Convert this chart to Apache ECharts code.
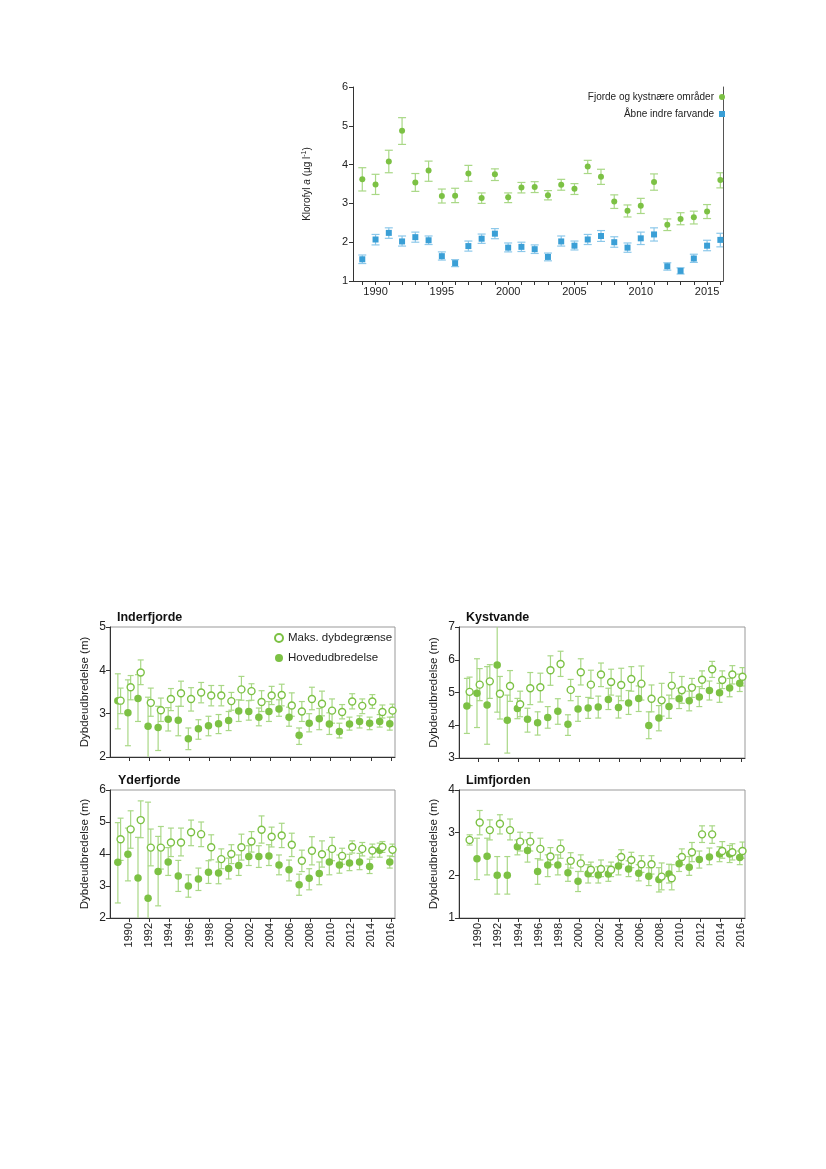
<!DOCTYPE html>
<html><head><meta charset="utf-8">
<script src="https://cdn.jsdelivr.net/npm/echarts@6/dist/echarts.min.js"></script>
<style>html,body{margin:0;padding:0;background:#fff}#c{width:826px;height:1169px}</style>
</head><body><div id="c"></div>
<script>
// ---------- DATA ----------
const years = [1989,1990,1991,1992,1993,1994,1995,1996,1997,1998,1999,2000,2001,2002,2003,2004,2005,2006,2007,2008,2009,2010,2011,2012,2013,2014,2015,2016];
const topTickLabels = [1990,1995,2000,2005,2010,2015];
const bottomTickLabels = [1990,1992,1994,1996,1998,2000,2002,2004,2006,2008,2010,2012,2014,2016];

// Top chart: Klorofyl a
const fjordMean = [3.62,3.49,4.08,4.87,3.54,3.85,3.19,3.20,3.77,3.14,3.75,3.16,3.41,3.42,3.21,3.48,3.38,3.95,3.69,3.05,2.81,2.94,3.55,2.45,2.60,2.64,2.79,3.60];
const fjordLo   = [3.32,3.23,3.79,4.52,3.31,3.57,3.01,3.02,3.57,3.00,3.59,3.02,3.27,3.28,3.09,3.34,3.23,3.77,3.49,2.87,2.65,2.74,3.34,2.30,2.45,2.47,2.61,3.40];
const fjordHi   = [3.92,3.75,4.37,5.21,3.77,4.09,3.37,3.39,3.98,3.27,3.89,3.27,3.54,3.56,3.33,3.62,3.51,4.11,3.88,3.22,2.96,3.13,3.76,2.60,2.76,2.80,2.97,3.79];
const openMean  = [1.56,2.07,2.24,2.02,2.13,2.05,1.64,1.46,1.90,2.09,2.22,1.86,1.88,1.82,1.62,2.02,1.91,2.07,2.16,2.00,1.86,2.10,2.20,1.38,1.26,1.58,1.91,2.06];
const openLo    = [1.45,1.93,2.10,1.90,2.00,1.94,1.54,1.37,1.77,1.97,2.09,1.75,1.76,1.71,1.52,1.90,1.80,1.94,2.02,1.87,1.74,1.94,2.03,1.28,1.18,1.48,1.78,1.88];
const openHi    = [1.67,2.20,2.37,2.16,2.26,2.16,1.75,1.55,2.03,2.21,2.35,1.98,2.00,1.93,1.72,2.16,2.03,2.20,2.30,2.14,1.98,2.26,2.37,1.47,1.34,1.69,2.05,2.23];

// Inderfjorde
const inderHoved   = [3.30,3.02,3.35,2.71,2.68,2.87,2.85,2.42,2.65,2.72,2.77,2.84,3.06,3.05,2.92,3.05,3.11,2.92,2.50,2.78,2.88,2.76,2.59,2.76,2.82,2.78,2.82,2.77];
const inderHovedLo = [2.65,2.26,2.82,1.90,2.15,2.60,2.49,2.17,2.41,2.49,2.54,2.61,2.82,2.85,2.72,2.82,2.94,2.71,2.29,2.58,2.63,2.52,2.44,2.62,2.67,2.63,2.69,2.62];
const inderHovedHi = [3.92,3.78,3.90,3.38,3.17,3.14,3.17,2.67,2.86,2.94,2.98,3.05,3.32,3.30,3.13,3.28,3.32,3.15,2.67,3.00,3.12,3.02,2.78,2.92,2.95,2.92,2.98,2.92];
const inderMaks    = [3.30,3.61,3.95,3.25,3.08,3.34,3.47,3.34,3.49,3.42,3.42,3.29,3.56,3.52,3.27,3.42,3.43,3.19,3.05,3.34,3.23,3.07,3.04,3.28,3.18,3.28,3.04,3.07];
const inderMaksLo  = [3.00,3.32,3.67,2.94,2.82,3.07,3.17,3.06,3.25,3.18,3.18,3.08,3.31,3.31,3.05,3.21,3.18,2.94,2.82,3.09,2.95,2.78,2.88,3.11,3.00,3.12,2.90,2.92];
const inderMaksHi  = [3.59,3.88,4.24,3.59,3.36,3.58,3.75,3.60,3.72,3.65,3.65,3.49,3.86,3.69,3.53,3.63,3.68,3.48,3.28,3.61,3.52,3.34,3.21,3.46,3.34,3.44,3.20,3.22];

// Kystvande
const kystHoved   = [4.59,4.98,4.62,5.84,4.15,4.51,4.18,4.08,4.24,4.43,4.03,4.50,4.53,4.56,4.79,4.54,4.68,4.82,3.99,4.22,4.57,4.81,4.75,4.86,5.06,4.99,5.14,5.28];
const kystHovedLo = [3.75,3.93,3.42,4.40,3.15,4.20,3.79,3.70,3.91,4.03,3.69,4.12,4.21,4.22,4.48,4.22,4.33,4.42,3.59,3.83,4.21,4.51,4.44,4.57,4.77,4.70,4.87,5.03];
const kystHovedHi = [5.43,6.03,5.79,7.30,4.92,4.82,4.52,4.41,4.57,4.81,4.32,4.88,4.85,4.89,5.13,4.89,5.06,5.20,4.41,4.60,4.92,5.13,5.04,5.18,5.35,5.28,5.43,5.56];
const kystMaks    = [5.02,5.24,5.34,4.96,5.20,4.64,5.13,5.16,5.68,5.87,5.08,5.62,5.24,5.55,5.32,5.23,5.41,5.27,4.81,4.76,5.21,5.07,5.15,5.39,5.71,5.38,5.55,5.48];
const kystMaksLo  = [4.60,4.75,4.82,4.19,4.73,4.26,4.63,4.71,5.22,5.49,4.75,5.23,4.82,5.18,4.92,4.75,5.04,4.77,4.41,4.28,4.81,4.67,4.85,5.12,5.46,5.12,5.26,5.20];
const kystMaksHi  = [5.47,5.73,5.85,5.49,5.67,5.04,5.61,5.59,6.12,6.26,5.40,6.03,5.68,5.90,5.71,5.74,5.79,5.81,5.23,5.28,5.61,5.49,5.43,5.66,5.95,5.66,5.82,5.76];

// Yderfjorde
const yderHoved   = [3.74,3.99,3.25,2.62,3.45,3.75,3.31,3.00,3.22,3.43,3.41,3.55,3.64,3.92,3.92,3.94,3.66,3.51,3.04,3.24,3.39,3.75,3.66,3.72,3.75,3.61,4.12,3.75];
const yderHovedLo = [2.47,3.16,1.90,1.60,2.38,3.33,2.83,2.65,2.86,3.08,3.07,3.22,3.33,3.64,3.58,3.64,3.35,3.16,2.71,2.88,3.04,3.35,3.40,3.48,3.51,3.39,3.90,3.56];
const yderHovedHi = [4.98,4.81,4.52,5.62,4.55,4.20,3.80,3.35,3.56,3.79,3.75,3.87,3.97,4.26,4.26,4.29,3.97,3.81,3.37,3.54,3.75,4.13,3.97,3.99,4.02,3.84,4.34,3.94];
const yderMaks    = [4.46,4.77,5.06,4.20,4.20,4.36,4.36,4.68,4.62,4.21,3.84,4.00,4.21,4.39,4.76,4.54,4.58,4.29,3.79,4.10,3.99,4.16,3.94,4.22,4.16,4.11,4.22,4.13];
const yderMaksLo  = [3.80,4.18,4.51,3.63,3.53,3.92,3.94,4.26,4.23,3.82,3.54,3.70,3.81,4.06,4.34,4.22,4.20,3.92,3.45,3.66,3.59,3.79,3.68,4.03,3.94,3.90,4.05,3.92];
const yderMaksHi  = [5.12,5.35,5.66,4.78,4.86,4.81,4.81,5.06,5.00,4.60,4.16,4.29,4.62,4.70,5.19,4.84,4.96,4.65,4.12,4.54,4.41,4.52,4.18,4.41,4.36,4.31,4.39,4.31];

// Limfjorden
const limfHoved   = [null,2.39,2.45,2.00,2.00,2.67,2.58,2.09,2.24,2.24,2.06,1.86,2.04,2.01,2.03,2.22,2.15,2.05,1.98,1.90,2.03,2.27,2.19,2.37,2.43,2.50,2.50,2.42];
const limfHovedLo = [null,1.90,2.01,1.56,1.56,2.48,2.31,1.79,1.97,2.01,1.86,1.62,1.82,1.82,1.86,2.01,1.97,1.87,1.76,1.61,1.82,2.09,2.00,2.17,2.25,2.32,2.30,2.25];
const limfHovedHi = [null,2.87,2.87,2.44,2.44,2.83,2.83,2.39,2.48,2.48,2.26,2.09,2.25,2.20,2.22,2.44,2.34,2.25,2.18,2.18,2.26,2.44,2.44,2.57,2.64,2.67,2.70,2.57];
const limfMaks    = [2.83,3.24,3.06,3.21,3.06,2.79,2.79,2.62,2.44,2.62,2.34,2.28,2.13,2.15,2.13,2.43,2.36,2.26,2.26,1.97,1.93,2.43,2.54,2.96,2.96,2.57,2.54,2.57];
const limfMaksLo  = [2.71,2.95,2.83,2.97,2.83,2.57,2.57,2.36,2.25,2.40,2.17,2.09,1.97,1.97,1.97,2.26,2.18,2.07,2.03,1.66,1.66,2.25,2.32,2.77,2.75,2.40,2.36,2.40];
const limfMaksHi  = [2.95,3.52,3.30,3.42,3.32,3.01,3.00,2.87,2.65,2.83,2.53,2.48,2.31,2.36,2.31,2.60,2.54,2.46,2.46,2.29,2.25,2.62,2.77,3.16,3.16,2.79,2.74,2.78];

// ---------- STYLE ----------
const FONT = 'Liberation Sans, Arial, sans-serif';
const GREEN = '#7cc144', GREEN_ERR = '#a9d886';
const BLUE = '#3a9fd6', BLUE_ERR = '#8cc8ea';
const AX = '#333';
const NAME_MAKS = 'Maks. dybdegrænse', NAME_HOVED = 'Hovedudbredelse';
const NAME_FJ = 'Fjorde og kystnære områder', NAME_AB = 'Åbne indre farvande';
const plain = v => String(v);

function errData(lo, hi, off){
  const out = [];
  years.forEach((y,i)=>{ if(lo[i]!=null && hi[i]!=null) out.push([y+off, lo[i], hi[i]]); });
  return out;
}
function ptData(v, off){
  const out = [];
  years.forEach((y,i)=>{ if(v[i]!=null) out.push([y+off, v[i]]); });
  return out;
}
function errSeries(gi, lo, hi, off, color, cap){
  return {
    type:'custom', xAxisIndex:gi, yAxisIndex:gi, clip:true, silent:true, z:2,
    data: errData(lo, hi, off),
    encode:{x:0, y:[1,2]},
    renderItem:function(params, api){
      const x = api.value(0), l = api.value(1), h = api.value(2);
      const p1 = api.coord([x,h]), p2 = api.coord([x,l]);
      const w = cap/2, st = {stroke:color, lineWidth:1.2};
      return {type:'group', children:[
        {type:'line', shape:{x1:p1[0],y1:p1[1],x2:p2[0],y2:p2[1]}, style:st},
        {type:'line', shape:{x1:p1[0]-w,y1:p1[1],x2:p1[0]+w,y2:p1[1]}, style:st},
        {type:'line', shape:{x1:p2[0]-w,y1:p2[1],x2:p2[0]+w,y2:p2[1]}, style:st}
      ]};
    }
  };
}

const grids = [
  {left:353, top:87, width:370, height:194},
  {left:110, top:627, width:285, height:130},
  {left:459, top:627, width:286, height:131},
  {left:110, top:790, width:285, height:128},
  {left:459, top:790, width:286, height:128}
];
const panelY = [null, [2,5], [3,7], [2,6], [1,4]];
const panelTitles = ['Inderfjorde','Kystvande','Yderfjorde','Limfjorden'];

const xAxes = [], yAxes = [];
xAxes.push({
  gridIndex:0, type:'value', min:1988.3, max:2016.2,
  axisLine:{lineStyle:{color:AX}},
  axisTick:{customValues:years, length:4, lineStyle:{color:AX}},
  axisLabel:{customValues:topTickLabels, formatter:plain, fontSize:11, color:'#222', fontFamily:FONT, margin:5},
  splitLine:{show:false}
});
yAxes.push({
  gridIndex:0, type:'value', min:1, max:6, interval:1,
  axisLine:{show:true, lineStyle:{color:AX}},
  axisTick:{show:true, length:4, lineStyle:{color:AX}},
  axisLabel:{fontSize:11, color:'#222', fontFamily:FONT, margin:5},
  splitLine:{show:false},
  name:'{n|Klorofyl }{i|a}{n| (µg l}{s|-1}{n|)}',
  nameLocation:'middle', nameGap:40, nameRotate:90,
  nameTextStyle:{rich:{
    n:{fontSize:10, fontFamily:FONT, color:'#222', lineHeight:12},
    i:{fontSize:10, fontFamily:FONT, fontStyle:'italic', color:'#222', lineHeight:12},
    s:{fontSize:7, fontFamily:FONT, color:'#222', verticalAlign:'top', lineHeight:12}
  }}
});
// right frame line of top chart
xAxes.push({gridIndex:0, type:'value', show:false, min:1988.3, max:2016.2});
yAxes.push({
  gridIndex:0, type:'value', position:'right', min:1, max:6, interval:1,
  axisLine:{show:true, lineStyle:{color:'#555'}}, axisTick:{show:false}, axisLabel:{show:false}, splitLine:{show:false}
});

for(let p=1;p<=4;p++){
  const bottomRow = p>=3;
  xAxes.push({
    gridIndex:p, type:'value', min:1988.1, max:2016.4,
    axisLine:{lineStyle:{color:AX}},
    axisTick:{customValues:bottomTickLabels, length:4, lineStyle:{color:AX}},
    axisLabel:{show:bottomRow, customValues:bottomTickLabels, formatter:plain, rotate:90, fontSize:11, color:'#222', fontFamily:FONT, margin:5},
    splitLine:{show:false}
  });
  yAxes.push({
    gridIndex:p, type:'value', min:panelY[p][0], max:panelY[p][1], interval:1,
    axisLine:{show:true, lineStyle:{color:AX}},
    axisTick:{show:true, length:4, lineStyle:{color:AX}},
    axisLabel:{fontSize:12, color:'#222', fontFamily:FONT, margin:4},
    splitLine:{show:false},
    name:'Dybdeudbredelse (m)', nameLocation:'middle', nameGap:19, nameRotate:90,
    nameTextStyle:{fontSize:11.5, color:'#222', fontFamily:FONT}
  });
}
function ax(p){ return p===0 ? 0 : p+1; }

const series = [];
function errTop(lo, hi, color){ return errSeries(0, lo, hi, 0, color, 8); }
series.push(errTop(fjordLo, fjordHi, GREEN_ERR));
series.push(errTop(openLo, openHi, BLUE_ERR));
series.push({type:'scatter', name:NAME_FJ, xAxisIndex:0, yAxisIndex:0, symbol:'circle', symbolSize:6,
  itemStyle:{color:GREEN, opacity:1}, data:ptData(fjordMean,0), z:3});
series.push({type:'scatter', name:NAME_AB, xAxisIndex:0, yAxisIndex:0, symbol:'rect', symbolSize:6,
  itemStyle:{color:BLUE, opacity:1}, data:ptData(openMean,0), z:3});

const panels = [
  [inderHoved, inderHovedLo, inderHovedHi, inderMaks, inderMaksLo, inderMaksHi],
  [kystHoved, kystHovedLo, kystHovedHi, kystMaks, kystMaksLo, kystMaksHi],
  [yderHoved, yderHovedLo, yderHovedHi, yderMaks, yderMaksLo, yderMaksHi],
  [limfHoved, limfHovedLo, limfHovedHi, limfMaks, limfMaksLo, limfMaksHi]
];
const OFF_H = -0.12, OFF_M = 0.15;
panels.forEach((d, k)=>{
  const a = ax(k+1);
  series.push(errSeries(a, d[1], d[2], OFF_H, GREEN_ERR, 6));
  series.push(errSeries(a, d[4], d[5], OFF_M, GREEN_ERR, 6));
  series.push({type:'scatter', name:NAME_HOVED, xAxisIndex:a, yAxisIndex:a, symbol:'circle', symbolSize:7.5,
    itemStyle:{color:GREEN, opacity:1}, data:ptData(d[0],OFF_H), z:3});
  series.push({type:'scatter', name:NAME_MAKS, xAxisIndex:a, yAxisIndex:a, symbol:'circle', symbolSize:7,
    itemStyle:{color:'#fff', borderColor:GREEN, borderWidth:1.4, opacity:1}, data:ptData(d[3],OFF_M), z:4});
});

const titles = [
  {text:panelTitles[0], left:117, top:611},
  {text:panelTitles[1], left:466, top:611},
  {text:panelTitles[2], left:118, top:774},
  {text:panelTitles[3], left:466, top:774}
].map(t=>Object.assign(t,{textStyle:{fontSize:12.5, fontWeight:'bold', color:'#111', fontFamily:FONT}, padding:0}));

const option = {
  animation:false,
  backgroundColor:'#fff',
  title: titles,
  grid: grids.map((g,i)=> i===0 ? Object.assign({}, g) :
    Object.assign({show:true, borderColor:'#999', borderWidth:1, backgroundColor:'transparent'}, g)),
  xAxis: xAxes,
  yAxis: yAxes,
  legend:[
    {data:[NAME_FJ, NAME_AB], orient:'vertical', right:101, top:92, align:'right',
     itemWidth:6, itemHeight:6, itemGap:7, padding:0,
     textStyle:{fontSize:10, color:'#222', fontFamily:FONT}, selectedMode:false},
    {data:[NAME_MAKS, NAME_HOVED], orient:'vertical', left:274, top:632,
     itemWidth:8, itemHeight:8, itemGap:8, padding:0,
     textStyle:{fontSize:11.5, color:'#222', fontFamily:FONT}, selectedMode:false}
  ],
  series: series
};
echarts.init(document.getElementById('c'), null, {renderer:'canvas'}).setOption(option);
</script>
</body></html>
